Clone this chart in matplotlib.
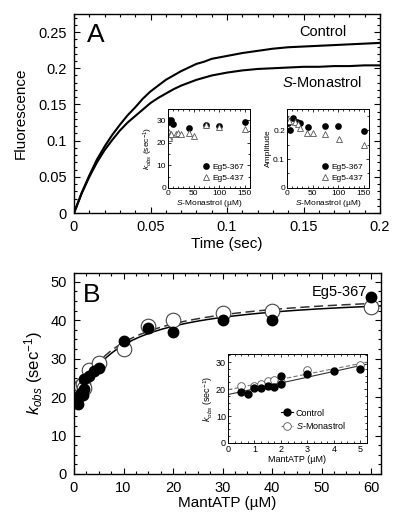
import numpy as np
import matplotlib.pyplot as plt
from matplotlib.ticker import MultipleLocator

plt.rcParams['font.family'] = ['Liberation Sans', 'DejaVu Sans']
plt.rcParams['mathtext.fontset'] = 'custom'
plt.rcParams['mathtext.rm'] = 'Liberation Sans'
plt.rcParams['mathtext.it'] = 'Liberation Sans:italic'

# panel A: fluorescence transients
time_s = [0, 0.005, 0.01, 0.015, 0.02, 0.025, 0.03, 0.035, 0.04, 0.045, 0.05,
          0.055, 0.06, 0.065, 0.07, 0.075, 0.08, 0.085, 0.09, 0.095, 0.1,
          0.11, 0.12, 0.13, 0.14, 0.15, 0.16, 0.17, 0.18, 0.19, 0.2]
fl_control = [0, 0.028, 0.052, 0.074, 0.092, 0.108, 0.122, 0.135, 0.146, 0.158, 0.168,
              0.176, 0.184, 0.190, 0.196, 0.201, 0.206, 0.209, 0.213, 0.215, 0.217,
              0.221, 0.224, 0.227, 0.229, 0.230, 0.231, 0.232, 0.233, 0.234, 0.235]
fl_smon = [0, 0.027, 0.050, 0.070, 0.087, 0.101, 0.114, 0.125, 0.134, 0.143, 0.152,
           0.159, 0.165, 0.171, 0.176, 0.180, 0.184, 0.187, 0.190, 0.192, 0.194,
           0.197, 0.199, 0.200, 0.201, 0.202, 0.202, 0.203, 0.203, 0.204, 0.204]

# inset A1 / A2: kobs and amplitude vs S-monastrol
smon_367 = [0, 1, 2, 5, 10, 40, 75, 100, 150]
kobs_367 = [30, 29.5, 29, 30, 28.5, 26.5, 28, 27.5, 29]
smon_437 = [0, 1, 2, 5, 15, 20, 25, 40, 50, 75, 100, 150]
kobs_437 = [25, 23, 22, 24, 24, 24.5, 24, 24.5, 23, 28, 27, 26]
amp_x_367 = [0, 1, 5, 12, 20, 25, 40, 75, 100, 150]
amp_367 = [0.233, 0.227, 0.201, 0.242, 0.228, 0.225, 0.213, 0.216, 0.216, 0.197]
amp_x_437 = [0, 3, 15, 21, 25, 39, 51, 75, 101, 151]
amp_437 = [0.242, 0.233, 0.230, 0.222, 0.208, 0.192, 0.192, 0.189, 0.169, 0.148]

# panel B: kobs vs mantATP
atp_ctrl = [0.5, 0.75, 1, 1.25, 1.5, 1.75, 2, 2, 3, 4, 5, 10, 15, 20, 30, 40, 60]
k_ctrl = [19, 18.3, 20.3, 20.3, 21.2, 20.6, 22, 24.8, 25.5, 26.8, 27.5,
          34.5, 38, 37, 40, 40, 46]
atp_smon = [0.5, 1, 1.25, 1.5, 1.75, 2, 3, 5, 10, 15, 20, 30, 40, 60]
k_smon = [21, 21.3, 22, 22.8, 23.5, 22.5, 27, 29, 32.5, 38.5, 40, 42, 42.5, 43.5]


def fit_hyperbola(x, y):
    # kobs = k0 + A*S/(K+S); grid on K, linear least squares for k0, A
    x = np.asarray(x, float)
    y = np.asarray(y, float)
    best = None
    for K in np.linspace(1, 40, 400):
        M = np.column_stack([np.ones_like(x), x / (K + x)])
        coef, res, _, _ = np.linalg.lstsq(M, y, rcond=None)
        r = np.sum((M @ coef - y) ** 2)
        if best is None or r < best[0]:
            best = (r, K, coef)
    _, K, (k0, A) = best
    return lambda s: k0 + A * s / (K + s)


def style_axes(ax, lw=1.0, length=3):
    ax.tick_params(which='both', direction='in', top=True, right=True, width=lw * 0.8)
    ax.tick_params(which='major', length=length)
    ax.tick_params(which='minor', length=length * 0.6)
    for s in ax.spines.values():
        s.set_linewidth(lw)


fig = plt.figure(figsize=(4, 5.16), dpi=100)

# ---- panel A
axA = fig.add_axes([0.185, 0.587, 0.765, 0.386])
axA.plot(time_s, fl_control, color='black', lw=1.5)
axA.plot(time_s, fl_smon, color='black', lw=1.5)
axA.set_xlim(0, 0.2)
axA.set_ylim(0, 0.275)
axA.set_xticks([0, 0.05, 0.1, 0.15, 0.2])
axA.set_xticklabels(['0', '0.05', '0.1', '0.15', '0.2'])
axA.set_yticks([0, 0.05, 0.1, 0.15, 0.2, 0.25])
axA.set_yticklabels(['0', '0.05', '0.1', '0.15', '0.2', '0.25'])
axA.xaxis.set_minor_locator(MultipleLocator(0.01))
axA.yaxis.set_minor_locator(MultipleLocator(0.01))
style_axes(axA, length=4)
axA.tick_params(labelsize=10.5, pad=5)
axA.set_xlabel('Time (sec)', fontsize=11, labelpad=2)
axA.set_ylabel('Fluorescence', fontsize=11, labelpad=8)
axA.text(0.0085, 0.246, 'A', fontsize=19, va='center', ha='left')
axA.text(0.178, 0.25, 'Control', fontsize=10.5, va='center', ha='right')
axA.text(0.188, 0.181, '$S$-Monastrol', fontsize=10.5, va='center', ha='right')

small = 6
ins1 = fig.add_axes([0.42, 0.636, 0.205, 0.153])
ins1.plot(smon_367, kobs_367, 'o', color='black', ms=3.8, label='Eg5-367')
ins1.plot(smon_437, kobs_437, '^', mfc='white', mec='#555555', mew=0.6, ms=4.3, label='Eg5-437')
ins1.set_xlim(0, 160)
ins1.set_ylim(0, 35)
ins1.set_xticks([0, 50, 100, 150])
ins1.set_yticks([0, 10, 20, 30])
ins1.xaxis.set_minor_locator(MultipleLocator(10))
ins1.yaxis.set_minor_locator(MultipleLocator(5))
style_axes(ins1, lw=0.7, length=2)
ins1.tick_params(labelsize=small, pad=1.5)
ins1.set_xlabel('$S$-Monastrol (\u00b5M)', fontsize=small, labelpad=0.5)
ins1.set_ylabel('$k_{obs}$ (sec$^{-1}$)', fontsize=small, labelpad=1)
ins1.legend(loc='lower right', fontsize=small, frameon=False, handletextpad=0.3,
            borderaxespad=0.3, labelspacing=0.4, handlelength=1)

ins2 = fig.add_axes([0.7175, 0.636, 0.205, 0.153])
ins2.plot(amp_x_367, amp_367, 'o', color='black', ms=3.8, label='Eg5-367')
ins2.plot(amp_x_437, amp_437, '^', mfc='white', mec='#555555', mew=0.6, ms=4.3, label='Eg5-437')
ins2.set_xlim(0, 160)
ins2.set_ylim(0, 0.275)
ins2.set_xticks([0, 50, 100, 150])
ins2.set_yticks([0, 0.1, 0.2])
ins2.set_yticklabels(['0', '0.1', '0.2'])
ins2.xaxis.set_minor_locator(MultipleLocator(10))
ins2.yaxis.set_minor_locator(MultipleLocator(0.05))
style_axes(ins2, lw=0.7, length=2)
ins2.tick_params(labelsize=small, pad=1.5)
ins2.set_xlabel('$S$-Monastrol (\u00b5M)', fontsize=small, labelpad=0.5)
ins2.set_ylabel('Amplitude', fontsize=small, labelpad=1)
ins2.legend(loc='lower right', fontsize=small, frameon=False, handletextpad=0.3,
            borderaxespad=0.3, labelspacing=0.4, handlelength=1)

# ---- panel B
axB = fig.add_axes([0.185, 0.0814, 0.7675, 0.3895])
xs = np.linspace(0, 62, 300)
f_ctrl = fit_hyperbola(atp_ctrl, k_ctrl)
f_smon = fit_hyperbola(atp_smon, k_smon)
axB.plot(xs, f_ctrl(xs), color='black', lw=1.1)
axB.plot(xs, f_smon(xs), color='#333333', lw=1.1, ls=(0, (6, 3)))
axB.plot(atp_smon, k_smon, 'o', mfc='white', mec='#444444', mew=0.8, ms=10.5)
axB.plot(atp_ctrl, k_ctrl, 'o', color='black', ms=7.5)
axB.set_xlim(0, 62)
axB.set_ylim(0, 52.3)
axB.set_xticks([0, 10, 20, 30, 40, 50, 60])
axB.set_yticks([0, 10, 20, 30, 40, 50])
axB.xaxis.set_minor_locator(MultipleLocator(2.5))
axB.yaxis.set_minor_locator(MultipleLocator(2.5))
style_axes(axB, length=4)
axB.tick_params(labelsize=10.5, pad=5)
axB.set_xlabel('MantATP (\u00b5M)', fontsize=11, labelpad=1)
axB.set_ylabel('$k_{obs}$ (sec$^{-1}$)', fontsize=12, labelpad=4)
axB.text(1.7, 46.6, 'B', fontsize=19, va='center', ha='left')
axB.text(59.2, 47.4, 'Eg5-367', fontsize=10.5, va='center', ha='right')

insB = fig.add_axes([0.57, 0.1415, 0.3475, 0.1725])
xl = np.linspace(0, 5.3, 50)
low_c = [i for i, a in enumerate(atp_ctrl) if a <= 5]
low_s = [i for i, a in enumerate(atp_smon) if a <= 5]
pc = np.polyfit([atp_ctrl[i] for i in low_c], [k_ctrl[i] for i in low_c], 1)
ps = np.polyfit([atp_smon[i] for i in low_s], [k_smon[i] for i in low_s], 1)
insB.plot(xl, np.polyval(pc, xl), color='#333333', lw=0.8)
insB.plot(xl, np.polyval(ps, xl), color='#777777', lw=0.8, ls=(0, (4, 2)))
insB.plot(atp_smon, k_smon, 'o', mfc='white', mec='#555555', mew=0.6, ms=5.5)
insB.plot(atp_ctrl, k_ctrl, 'o', color='black', ms=5)
insB.plot([], [], 'o-', color='black', ms=5, lw=0.8, label='Control')
insB.plot([], [], 'o', ls=(0, (3, 2)), color='#777777', mfc='white', mec='#555555',
          mew=0.6, ms=5.5, lw=0.8, label='$S$-Monastrol')
insB.set_xlim(0, 5.25)
insB.set_ylim(0, 33)
insB.set_xticks([0, 1, 2, 3, 4, 5])
insB.set_yticks([0, 10, 20, 30])
insB.xaxis.set_minor_locator(MultipleLocator(0.25))
insB.yaxis.set_minor_locator(MultipleLocator(2.5))
style_axes(insB, lw=0.7, length=2)
insB.tick_params(labelsize=6.5, pad=1.5)
insB.set_xlabel('MantATP (\u00b5M)', fontsize=6.5, labelpad=0.5)
insB.set_ylabel('$k_{obs}$ (sec$^{-1}$)', fontsize=6.5, labelpad=1)
insB.legend(loc='lower right', fontsize=6.5, frameon=False, handletextpad=0.3,
            borderaxespad=0.4, labelspacing=0.3, handlelength=1.4,
            bbox_to_anchor=(0.9, 0.05))

fig.savefig('out.png', dpi=100)
